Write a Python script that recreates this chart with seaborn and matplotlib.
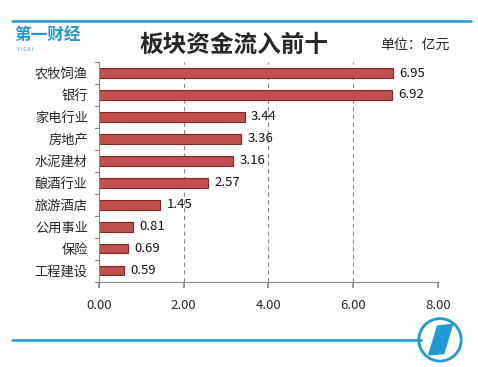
import matplotlib
matplotlib.use("Agg")
import matplotlib.pyplot as plt
import pandas as pd
import seaborn as sns
from matplotlib.patches import Circle, Polygon
from matplotlib.lines import Line2D

sectors = ["农牧饲渔", "银行", "家电行业", "房地产", "水泥建材", "酿酒行业", "旅游酒店", "公用事业", "保险", "工程建设"]
inflow = [6.95, 6.92, 3.44, 3.36, 3.16, 2.57, 1.45, 0.81, 0.69, 0.59]
x_ticks = [0, 2, 4, 6, 8]

sns.set_theme(style="white")
plt.rcParams["font.family"] = ["Noto Sans CJK SC", "DejaVu Sans"]

df = pd.DataFrame({"sector": sectors, "inflow": inflow})

fig = plt.figure(figsize=(4.78, 3.67), dpi=100)
ax = fig.add_axes([0.207, 0.232, 0.709, 0.599])

sns.barplot(data=df, y="sector", x="inflow", orient="h", color="#c0504d",
            width=0.42, edgecolor="#7f2725", linewidth=0.8, saturation=1, ax=ax)

for bar, v in zip(ax.patches, inflow):
    ax.text(bar.get_width() + 0.15, bar.get_y() + bar.get_height() / 2, f"{v:.2f}",
            va="center", ha="left", fontsize=9.5, color="#111111")

ax.set_xlim(0, 8)
ax.set_xticks(x_ticks)
ax.set_xticklabels([f"{t:.2f}" for t in x_ticks], fontsize=9.5)
ax.tick_params(axis="y", labelsize=9.5, length=0, pad=8)
ax.tick_params(axis="x", length=4, color="#888888", direction="out", bottom=True, pad=8)
ax.set_xlabel("")
ax.set_ylabel("")
for t in x_ticks[1:]:
    ax.axvline(t, color="#888888", linestyle=(0, (4, 3)), linewidth=0.8, zorder=0)
for s in ["top", "right"]:
    ax.spines[s].set_visible(False)
for s in ["left", "bottom"]:
    ax.spines[s].set_color("#888888")
    ax.spines[s].set_linewidth(0.8)
# category separator ticks on left axis
for i in range(len(sectors) + 1):
    ax.plot([-0.1, 0], [i - 0.5, i - 0.5], color="#888888", lw=0.8, clip_on=False)
ax.set_ylim(len(sectors) - 0.5, -0.5)
ax.set_xlim(0, 8)

# header / decorations
fig.add_artist(Line2D([0.025, 0.985], [0.943, 0.943], color="#1f9ad6", lw=1.8))
fig.add_artist(Line2D([0.025, 0.88], [0.074, 0.074], color="#1f9ad6", lw=1.8))
fig.text(0.03, 0.905, "第一财经", fontsize=12, color="#1f9ad6", fontweight="bold", va="center")
fig.text(0.035, 0.865, "Y I C A I", fontsize=3.5, color="#1f9ad6", va="center")
fig.text(0.49, 0.877, "板块资金流入前十", fontsize=17, fontweight="bold", ha="center", va="center")
fig.text(0.795, 0.877, "单位：亿元", fontsize=10, ha="left", va="center")

logo = fig.add_axes([0.868, 0.006, 0.105, 0.136])
logo.set_xlim(-1, 1)
logo.set_ylim(-1, 1)
logo.set_aspect("equal")
logo.axis("off")
logo.add_patch(Circle((0, 0), 0.85, fill=False, ec="#1f9ad6", lw=2))
logo.add_patch(Polygon([(-0.45, -0.6), (-0.1, 0.55), (0.5, 0.62), (0.15, -0.55)], color="#1f9ad6"))

fig.savefig("out.png", dpi=100)
